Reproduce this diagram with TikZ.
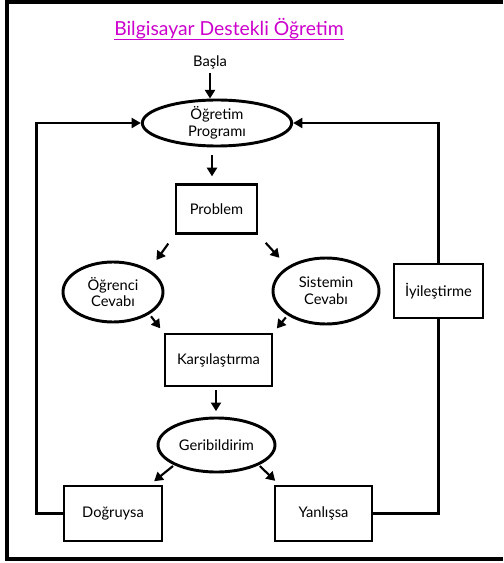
\documentclass[tikz,border=0pt]{standalone}
\usepackage{fontspec}
\setmainfont{Lato}
\usetikzlibrary{shapes,arrows.meta}
\definecolor{titlecol}{RGB}{204,0,204}
\tikzstyle{block} = [rectangle, draw, line width=2.2pt, align=center, inner sep=0pt]
\tikzstyle{oval} = [ellipse, draw, line width=2.2pt, align=center, inner sep=0pt]
\tikzstyle{line} = [draw, line width=1.6pt, -{Triangle[length=6.5pt,width=7.5pt]}]
\tikzstyle{loop} = [draw, line width=2.2pt]

\begin{document}
\begin{tikzpicture}[x=0.75pt, y=-0.75pt, font=\fontsize{11}{12.5}\selectfont]
        \useasboundingbox (0,0) rectangle (503,563);
        % frame (right side is cut off)
        \draw[line width=2.4pt] (503,2) -- (7,2) -- (7,559) -- (503,559);

        % Place nodes
        % title
        \node[text=titlecol, font=\fontsize{14.5}{16}\selectfont, anchor=base, inner sep=0pt] (titl) at (229,36) {Bilgisayar Destekli Öğretim};
        \draw[titlecol, line width=0.8pt] ([yshift=-2.5pt]titl.base west) -- ([yshift=-2.5pt]titl.base east);
        \node (basl) at (210,62) {Başla};

        % 1. program
        \node[oval, minimum width=112pt, minimum height=34.5pt] (ogrt) at (217,123) {Öğretim\\Programı};

        % 2. problem and the two answers
        \node[block, minimum width=60.75pt, minimum height=36.75pt] (prob) at (216.5,209) {Problem};
        \node[oval, minimum width=75pt, minimum height=45pt] (ogrc) at (113,292) {Öğrenci\\Cevabı};
        \node[oval, minimum width=79.5pt, minimum height=49.5pt] (sist) at (326,291) {Sistemin\\Cevabı};
        \node[block, minimum width=66.75pt, minimum height=40.5pt] (iyil) at (438.5,291) {İyileştirme};

        % 3. comparison and feedback
        \node[block, minimum width=80.25pt, minimum height=39pt] (kars) at (218.5,360) {Karşılaştırma};
        \node[oval, minimum width=87.75pt, minimum height=40.5pt] (geri) at (216.5,445) {Geribildirim};

        % 4. result
        \node[block, minimum width=73.5pt, minimum height=41.25pt] (dogr) at (113,513.5) {Doğruysa};
        \node[block, minimum width=72.75pt, minimum height=41.25pt] (yanl) at (323.5,513.5) {Yanlışsa};

        % Draw edges
        \path [line] (basl.south) -- (basl.south |- ogrt.north);
        \path [line, shorten <=6pt, shorten >=5pt] (ogrt.south -| 212,0) -- (prob.north -| 212,0);
        \path [line, shorten <=8pt, shorten >=9pt] (prob.south west) -- (ogrc.north east);
        \path [line, shorten <=8pt, shorten >=9pt] (prob.south east) -- (sist.north west);
        \path [line, shorten <=2pt, shorten >=4pt] (ogrc.south east) -- (kars.north west);
        \path [line, shorten <=2pt, shorten >=4pt] (sist.south west) -- (kars.north east);
        \path [line, shorten <=2pt, shorten >=4pt] (kars.south -| 216,0) -- (geri.north -| 216,0);
        \path [line, shorten <=1pt, shorten >=4pt] (geri.south west) -- (dogr.north -| 150,0);
        \path [line, shorten <=1pt, shorten >=4pt] (geri.south east) -- (yanl.north -| 279,0);

        % feedback loops
        \path [loop, -{Triangle[length=7pt,width=7.5pt]}] (dogr.west) -- ++(-26,0) |- (ogrt.west);
        \path [loop] (yanl.east) -| (iyil.south);
        \path [loop, -{Triangle[length=7pt,width=7.5pt]}] (iyil.north) |- (ogrt.east);
\end{tikzpicture}
\end{document}
